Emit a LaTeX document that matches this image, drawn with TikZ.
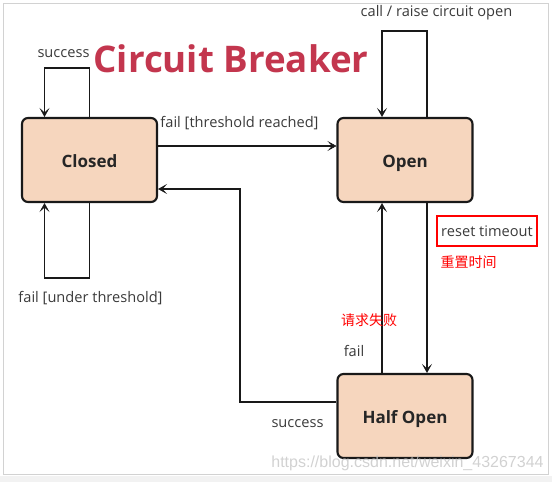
\documentclass[tikz,border=0pt]{standalone}
\usepackage{fontspec}
\setmainfont{Open Sans}
\newfontfamily\cjkfont{Noto Sans CJK SC}
\newfontfamily\wmfont{Liberation Sans}
\usetikzlibrary{arrows.meta}
\definecolor{peach}{HTML}{F6D6BE}
\definecolor{titlered}{HTML}{C3364E}
\definecolor{lblgray}{HTML}{3A3A3A}
\begin{document}
\begin{tikzpicture}[x=1pt,y=-1pt,
  state/.style={draw=black!90, line width=2.1pt, rounded corners=6pt, fill=peach,
    minimum width=135pt, minimum height=84pt, inner sep=0pt,
    text height=15pt, text depth=0.6pt,
    font=\fontsize{17}{19}\selectfont\bfseries, text=black!85},
  lbl/.style={font=\fontsize{14.6}{17}\selectfont, text=lblgray, inner sep=0pt},
  cnlbl/.style={font=\cjkfont\fontsize{14}{16}\selectfont, text=red, inner sep=0pt},
  conn/.style={line width=1.8pt, draw=black!90,
    -{Stealth[length=9pt,width=10pt,inset=4.5pt,line width=0.6pt]}},
  plain/.style={line width=1.8pt, draw=black!90}]
\useasboundingbox (0,0) rectangle (552,482);
\fill[gray!10] (0,476) rectangle (552,482);
\draw[gray!35, line width=0.8pt] (3,3) rectangle (548,474);

% states
\node[state] (closed) at (89.5,160) {Closed};
\node[state] (open) at (405,160) {Open};
\node[state] (half) at (405,416) {Half Open};

% title
\node[font=\fontsize{36.7}{40}\selectfont\bfseries, text=titlered, anchor=base, inner sep=0pt] (title) at (231,72) {Circuit Breaker};

% closed self loops
\draw[conn] (closed.north) -- ++(0,-49) -| ([xshift=-45pt]closed.north);
\node[lbl] (lsucc1) at (63.5,54) {success};
\draw[conn] (closed.south) -- ++(0,75) -| ([xshift=-45pt]closed.south);
\node[lbl] (lfailu) at (90.5,298) {fail [under threshold]};

% closed -> open
\draw[conn] ([yshift=14pt]closed.east) -- ([yshift=14pt]open.west);
\node[lbl] (lfailt) at (239.5,123) {fail [threshold reached]};

% open self loop
\draw[conn] ([xshift=22pt]open.north) -- ++(0,-86) -| ([xshift=-23pt]open.north);
\node[lbl] (lcall) at (436.5,13) {call / raise circuit open};

% open -> half open
\draw[conn] ([xshift=22pt]open.south) -- ([xshift=22pt]half.north);
\node[lbl, draw=red, line width=2pt, minimum width=100pt, minimum height=30pt] (lreset) at (487,231) {reset timeout};
\node[cnlbl] (lreset2) at (468.5,262) {重置时间};

% half open -> open
\draw[conn] ([xshift=-23pt]half.north) -- ([xshift=-23pt]open.south);
\node[lbl] (lfail) at (354,351) {fail};
\node[cnlbl] (lfail2) at (369,320) {请求失败};

% half open -> closed
\coordinate (corner) at (240,189);
\draw[conn] ([yshift=14pt]half.west) -| (corner) -- ([yshift=-29pt]closed.east);
\node[lbl] (lsucc2) at (297.5,424) {success};

% watermark
\node[font=\wmfont\fontsize{16}{18}\selectfont, text=gray!45, opacity=0.8, inner sep=0pt] (wm) at (407.5,463) {https://blog.csdn.net/weixin\_43267344};
\end{tikzpicture}
\end{document}
